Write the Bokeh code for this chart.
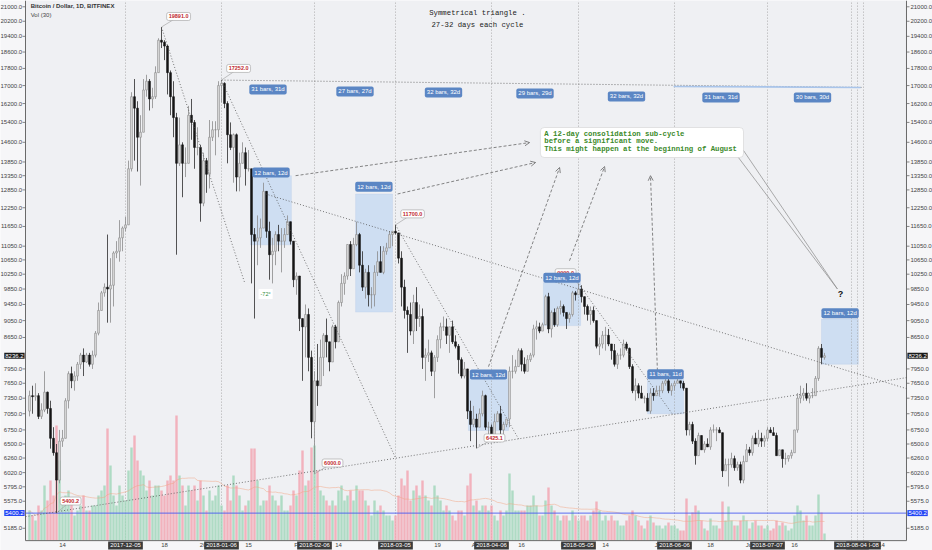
import pandas as pd
from bokeh.plotting import figure
from bokeh.models import (ColumnDataSource, Range1d, LinearScale, BoxAnnotation, Label, Arrow, OpenHead)
from bokeh.core.properties import value
from bokeh.embed import file_html
from bokeh.resources import INLINE

# ---------------- data (BTC/USD Bitfinex, daily, 2017-11-03 .. 2018-07-26) ----------------
# day index relative to 2017-12-05
FIRST_DAY = -32

opens = [
    # Nov 3-30
    7100, 7400, 7380, 7400, 7000, 7120, 7470, 7150, 6600, 6350, 5900, 6550, 6600, 7300, 7850, 7700, 7800, 8050, 8250, 8100,
    8250, 8050, 8250, 8750, 9300, 9750, 9900, 9850,
    # Dec
    9950, 10850, 10900, 11300, 11600, 11700, 13600, 16500, 16000, 14800, 15000, 16800, 17200, 16400, 16500, 17600, 19200,
    19100, 18900, 17600, 16500, 15600, 13800, 14500, 13800, 13800, 15700, 15400, 14400, 14400, 12400,
    # Jan
    13900, 13400, 14800, 15100, 15100, 17000, 17100, 16200, 14900, 14400, 14900, 13300, 13800, 14200, 13600, 13600, 11400,
    11200, 11300, 11600, 12800, 11500, 10800, 10900, 11400, 11200, 11200, 11400, 11800, 11200, 10100,
    # Feb
    10200, 9100, 8900, 9200, 8200, 6900, 7700, 7600, 8200, 8700, 8550, 8100, 8900, 8550, 9500, 10000, 10200, 11100, 10400,
    11100, 11400, 10500, 9900, 10300, 9700, 9700, 10300, 10600,
    # Mar
    10300, 10900, 11000, 11400, 11500, 11450, 10700, 9900, 9300, 9200, 8800, 9500, 9100, 9150, 8200, 8250, 8300, 7900, 8200,
    8600, 8900, 8900, 8700, 8900, 8550, 8450, 8150, 7800, 7950, 7100, 6850,
    # Apr
    6950, 6800, 7050, 7400, 6800, 6800, 6600, 6900, 7050, 6750, 6850, 6950, 7900, 7900, 8000, 8350, 8050, 7900, 8150, 8250,
    8850, 8900, 8800, 8950, 9650, 8850, 9250, 8950, 9350, 9400,
    # May
    9250, 9100, 9200, 9750, 9700, 9850, 9650, 9400, 9200, 9300, 9050, 8450, 8500, 8700, 8700, 8500, 8350, 8050, 8250, 8250,
    8500, 8400, 8000, 7500, 7600, 7450, 7350, 7350, 7100, 7450, 7400,
    # Jun
    7500, 7500, 7650, 7700, 7500, 7600, 7650, 7700, 7650, 7550, 6750, 6850, 6550, 6300, 6650, 6400, 6500, 6450, 6750, 6750,
    6750, 6700, 6050, 6150, 6150, 6250, 6100, 6150, 5900, 6200,
    # Jul 1-26
    6400, 6350, 6600, 6500, 6600, 6550, 6600, 6750, 6700, 6650, 6300, 6400, 6250, 6250, 6300, 6350, 6750, 7350, 7400, 7450,
    7350, 7400, 7400, 7750, 8400, 8200,
]
highs = [
    7500, 7600, 7650, 7450, 7250, 7900, 7480, 7300, 6800, 6500, 6750, 6750, 7350, 7900, 8000, 7900, 8100, 8300, 8400, 8300,
    8300, 8350, 8800, 9500, 9800, 10000, 11400, 10700,
    10900, 11200, 11850, 11650, 11950, 13900, 16700, 17300, 16300, 15700, 17300, 17500, 17300, 16900, 17900, 19300, 19891,
    19200, 18950, 17700, 17200, 15800, 15600, 14600, 14400, 16100, 16400, 15500, 15200, 14500, 14200,
    14000, 15500, 15450, 15450, 17200, 17252, 17150, 16300, 15400, 14950, 14950, 14200, 14600, 14400, 14300, 13600, 11600,
    12000, 11900, 13100, 12800, 11800, 11300, 11500, 11700, 11600, 11600, 12000, 11800, 11200, 10300,
    10200, 9100, 9450, 9350, 8350, 7900, 8500, 8600, 8750, 9100, 8550, 8950, 8950, 9550, 10250, 10300, 11100, 11200, 11300,
    11800, 11450, 10900, 10400, 10500, 9900, 10500, 10900, 11050,
    11050, 11150, 11500, 11500, 11700, 11450, 10900, 10100, 9400, 9500, 9700, 9900, 9450, 9350, 8400, 8600, 8350, 8250, 8700,
    9000, 9150, 9100, 8900, 9050, 8700, 8500, 8200, 8100, 7950, 7300, 7200,
    7050, 7150, 7500, 7420, 6900, 6850, 7050, 7100, 7200, 6900, 6950, 8000, 8250, 8150, 8400, 8400, 8200, 8250, 8300, 8950,
    9050, 9000, 9000, 9700, 9750, 9300, 9350, 9400, 9550, 9450,
    9250, 9250, 9800, 9800, 9990, 9950, 9650, 9450, 9400, 9400, 9050, 8650, 8800, 8900, 8850, 8500, 8500, 8300, 8400, 8600,
    8550, 8420, 8050, 7750, 7650, 7600, 7400, 7450, 7550, 7550, 7600,
    7600, 7700, 7750, 7750, 7650, 7700, 7750, 7700, 7700, 7550, 6900, 6900, 6600, 6700, 6650, 6550, 6600, 6800, 6850, 6800,
    6800, 6700, 6250, 6250, 6350, 6300, 6200, 6200, 6300, 6500,
    6450, 6650, 6700, 6750, 6700, 6650, 6800, 6800, 6800, 6700, 6400, 6400, 6350, 6300, 6400, 6750, 7450, 7600, 7550, 7650,
    7450, 7550, 7800, 8450, 8500, 8300,
]
lows = [
    7000, 7050, 7300, 6950, 6950, 7080, 7050, 6420, 6300, 5400.2, 5850, 6450, 6600, 7150, 7550, 7500, 7700, 7950, 7800, 8080,
    8000, 7950, 8200, 8700, 9300, 9650, 9000, 9000,
    9400, 10700, 10600, 10900, 11500, 11700, 13500, 13900, 13500, 13000, 15000, 16500, 15900, 16000, 16400, 17600, 18800,
    18200, 16600, 15700, 14800, 10800, 13700, 12600, 13300, 13800, 14700, 13600, 14100, 11800, 12300,
    12750, 12900, 14650, 14100, 14800, 16250, 16000, 13800, 14300, 13100, 12800, 12800, 13800, 13000, 13500, 10000, 9100,
    10500, 11000, 11600, 11300, 10100, 10000, 10500, 10900, 10300, 11000, 11400, 11100, 9900, 9700,
    8800, 7700, 8200, 7900, 6600, 6000, 7200, 7600, 7800, 8200, 7900, 8100, 8400, 8550, 9400, 9700, 10100, 10200, 10400,
    11050, 10300, 9800, 9600, 9400, 9350, 9400, 10200, 10300,
    10250, 10800, 11000, 11050, 11400, 10550, 9400, 9100, 8300, 8700, 8500, 8800, 8900, 7950, 7700, 8100, 7800, 7350, 8100,
    8400, 8800, 8500, 8300, 8500, 8400, 7850, 7750, 7750, 6950, 6550, 6800,
    6425.1, 6800, 7000, 6750, 6600, 6550, 6600, 6900, 6650, 6650, 6800, 6800, 7750, 7850, 8000, 7900, 7850, 7900, 8100, 8200,
    8600, 8750, 8800, 8950, 8750, 8650, 8900, 8900, 9200, 9150,
    8850, 9000, 9150, 9550, 9700, 9500, 9200, 9050, 8950, 9000, 8400, 8250, 8400, 8350, 8450, 8150, 8000, 7950, 8150, 8200,
    8350, 7950, 7450, 7300, 7350, 7350, 7250, 7100, 7050, 7300, 7400,
    7400, 7450, 7600, 7450, 7400, 7500, 7650, 7550, 7500, 6650, 6650, 6500, 6150, 6300, 6400, 6350, 6450, 6400, 6700, 6550,
    6700, 5950, 6050, 5800, 6100, 6050, 6050, 5850, 5850, 6200,
    6300, 6300, 6500, 6450, 6450, 6450, 6550, 6700, 6650, 6300, 6300, 6100, 6150, 6200, 6250, 6350, 6700, 7250, 7300, 7300,
    7250, 7350, 7400, 7700, 8050, 8150,
]
closes = [
    7400, 7380, 7400, 7000, 7120, 7470, 7150, 6600, 6350, 5900, 6550, 6600, 7300, 7850, 7700, 7800, 8050, 8250, 8100, 8250,
    8050, 8250, 8750, 9300, 9750, 9900, 9850, 9950,
    10850, 10900, 11300, 11600, 11700, 13600, 16500, 16000, 14800, 15000, 16800, 17200, 16400, 16500, 17600, 19200, 19100,
    18900, 17600, 16500, 15600, 13800, 14500, 13800, 13800, 15700, 15400, 14400, 14400, 12400, 13900,
    13400, 14800, 15100, 15100, 17000, 17100, 16200, 14900, 14400, 14900, 13300, 13800, 14200, 13600, 13600, 11400, 11200,
    11300, 11600, 12800, 11500, 10800, 10900, 11400, 11200, 11200, 11400, 11800, 11200, 10100, 10200,
    9100, 8900, 9200, 8200, 6900, 7700, 7600, 8200, 8700, 8550, 8100, 8900, 8550, 9500, 10000, 10200, 11100, 10400, 11100,
    11400, 10500, 9900, 10300, 9700, 9700, 10300, 10600, 10300,
    10900, 11000, 11400, 11500, 11450, 10700, 9900, 9300, 9200, 8800, 9500, 9100, 9150, 8200, 8250, 8300, 7900, 8200, 8600,
    8900, 8900, 8700, 8900, 8550, 8450, 8150, 7800, 7950, 7100, 6850, 6950,
    6800, 7050, 7400, 6800, 6800, 6600, 6900, 7050, 6750, 6850, 6950, 7900, 7900, 8000, 8350, 8050, 7900, 8150, 8250, 8850,
    8900, 8800, 8950, 9650, 8850, 9250, 8950, 9350, 9400, 9250,
    9100, 9200, 9750, 9700, 9850, 9650, 9400, 9200, 9300, 9050, 8450, 8500, 8700, 8700, 8500, 8350, 8050, 8250, 8250, 8500,
    8400, 8000, 7500, 7600, 7450, 7350, 7350, 7100, 7450, 7400, 7500,
    7500, 7650, 7700, 7500, 7600, 7650, 7700, 7650, 7550, 6750, 6850, 6550, 6300, 6650, 6400, 6500, 6450, 6750, 6750, 6750,
    6700, 6050, 6150, 6150, 6250, 6100, 6150, 5900, 6200, 6400,
    6350, 6600, 6500, 6600, 6550, 6600, 6750, 6700, 6650, 6300, 6400, 6250, 6250, 6300, 6350, 6750, 7350, 7400, 7450, 7350,
    7400, 7400, 7750, 8400, 8200, 8236.2,
]
volumes = [  # thousand BTC
    30, 25, 20, 35, 30, 55, 40, 60, 45, 115, 80, 40, 45, 50, 40, 25, 30, 35, 45, 30, 30, 35, 35, 45, 50, 55, 112, 75,
    45, 35, 55, 45, 40, 70, 93, 105, 80, 70, 65, 50, 60, 45, 55, 55, 50, 45, 60, 65, 60, 125, 65, 55, 35, 55, 50, 55, 40, 60, 45,
    30, 50, 40, 45, 55, 35, 30, 55, 40, 65, 55, 45, 30, 35, 40, 92, 92, 60, 35, 40, 40, 55, 45, 40, 35, 45, 30, 30, 35, 50, 45,
    70, 90, 55, 60, 93, 95, 70, 50, 45, 40, 35, 40, 35, 50, 55, 40, 45, 50, 40, 55, 50, 50, 40, 35, 25, 40, 30, 35,
    30, 25, 25, 20, 25, 45, 62, 55, 70, 40, 50, 55, 45, 60, 45, 40, 35, 55, 45, 40, 30, 35, 30, 25, 20, 30, 30, 25, 55, 67, 35,
    40, 30, 35, 35, 30, 35, 25, 20, 30, 25, 30, 67, 50, 30, 30, 30, 30, 35, 35, 45, 35, 25, 25, 40, 53, 35, 30, 25, 20, 25,
    25, 20, 30, 25, 20, 25, 25, 20, 25, 30, 39, 30, 20, 25, 20, 25, 20, 20, 15, 15, 20, 25, 30, 25, 20, 15, 12, 20, 25, 18, 15,
    15, 12, 15, 18, 15, 15, 12, 10, 10, 42, 25, 28, 35, 30, 20, 12, 10, 22, 15, 15, 12, 39, 20, 34, 20, 15, 15, 20, 25, 20,
    12, 18, 20, 15, 15, 12, 15, 10, 12, 20, 15, 18, 15, 10, 12, 25, 35, 30, 20, 25, 15, 15, 25, 46, 28, 7,
]

price_ticks = [21000, 20200, 19400, 18600, 17800, 17000, 16200, 15400, 14600, 13850, 13350, 12850, 12250, 11650,
               11050, 10650, 10250, 9850, 9450, 9050, 8650, 7950, 7650, 7350, 7050, 6750, 6500, 6260, 6020, 5795,
               5575, 5185]
date_ticks = [-21, -4, 13, 27, 41, 58, 71, 86, 104, 117, 132, 147, 160, 178, 195, 208, 223, 239, 252]
date_tick_labels = ["14", "Dec", "18", "2018", "15", "Feb", "14", "Mar", "19", "Apr", "16", "May", "14", "Jun",
                    "18", "Jul", "16", "Aug", "14"]
cycle_days = [32, 63, 90, 122, 151, 183, 214, 244]
cycle_labels = ["31 bars, 31d", "27 bars, 27d", "32 bars, 32d", "29 bars, 29d", "32 bars, 32d", "31 bars, 31d",
                "30 bars, 30d"]
marker_days = [0, 32, 63, 90, 122, 151, 183, 214, 246, 242]
marker_texts = ["2017-12-05", "2018-01-06", "2018-02-06", "2018-03-05", "2018-04-06", "2018-05-05", "2018-06-06",
                "2018-07-07", "2018-08-08", "2018-08-04"]
last_price = 8236.2
support_price = 5400.2

# ---------------- canvas / plot area (the whole canvas is the frame; price & time scales drawn on it) ----------------
CX0, CX1 = -41.667, 269.0        # canvas edges in days
CY0, CY1 = 4885, 21357           # canvas edges in price (log)
X0, X1 = -33.33, 260.33          # plot-area edges in days
Y0, Y1 = 5016, 21357             # plot-area bottom / top price
FONT = "Liberation Sans"
MONO = "Liberation Mono"
AX = "#6a6a6a"

days = list(range(FIRST_DAY, FIRST_DAY + len(closes)))
up = [c >= o for o, c in zip(opens, closes)]
src = ColumnDataSource(dict(
    day=days, open=opens, high=highs, low=lows, close=closes,
    btop=[max(o, c) for o, c in zip(opens, closes)],
    bbot=[min(o, c) for o, c in zip(opens, closes)],
    bfill=["#dcdcdc" if u else "#151515" for u in up],
    bline=["#8a8a8a" if u else "#151515" for u in up],
    wick=["#8a8a8a" if u else "#2a2a2a" for u in up],
    vol=volumes,
    vcolor=["#9ed6b8" if u else "#f2a2ae" for u in up],
    vma=pd.Series(volumes, dtype=float).rolling(30, min_periods=1).mean().tolist(),
))

p = figure(width=932, height=550, y_axis_type="log", x_range=Range1d(CX0, CX1), y_range=Range1d(CY0, CY1),
           output_backend="svg", toolbar_location=None, x_axis_location=None, y_axis_location=None,
           min_border=0, background_fill_color="#f6f6f8", border_fill_color="#f6f6f8", outline_line_color=None)
p.grid.visible = False
p.extra_y_ranges = {"vol": Range1d(-10, 540)}
p.extra_y_scales = {"vol": LinearScale()}

# plot area background
p.add_layout(BoxAnnotation(left=X0, right=X1, top=Y1, bottom=Y0, fill_color="#eff0f3", fill_alpha=1,
                           line_color=None, level="underlay"))

# date-range boxes (12-bar consolidations)
boxes = [(41.7, 55.3, 13350, 11090, "12 bars, 12d", 48.5, 13460),
         (76.7, 89.0, 12710, 9260, "12 bars, 12d", 82.8, 12960),
         (114.3, 127.7, 7750, 6740, "12 bars, 12d", 121.0, 7830),
         (139.3, 151.7, 10020, 8930, "12 bars, 12d", 145.5, 10150),
         (174.0, 186.0, 7750, 7050, "11 bars, 11d", 180.0, 7840),
         (232.0, 244.3, 9090, 8050, "12 bars, 12d", 238.2, 9230)]
for l, r, t, b, _, _, _ in boxes:
    p.add_layout(BoxAnnotation(left=l, right=r, top=t, bottom=b, fill_color="#c3d8f1", fill_alpha=0.75,
                               line_color="#a8c2e4", line_width=0.8, level="underlay"))

# vertical date-marker lines
vd = sorted(set(marker_days + cycle_days))
p.segment(x0=vd, y0=[Y0] * len(vd), x1=vd, y1=[Y1] * len(vd), line_color="#9c9c9c", line_dash="1 2",
          line_width=0.8)

# volume + MA
p.vbar(x="day", top="vol", bottom=0, width=0.8, fill_color="vcolor", fill_alpha=0.8, line_color=None,
       y_range_name="vol", source=src)
p.line(x="day", y="vma", line_color="#f3a27f", line_alpha=0.6, line_width=0.8, y_range_name="vol", source=src)

# support line
p.segment(x0=[X0], y0=[support_price], x1=[X1], y1=[support_price], line_color="#4a5cf0", line_width=0.9)

# candles
p.segment(x0="day", y0="low", x1="day", y1="high", line_color="wick", line_width=0.8, source=src)
p.vbar(x="day", top="btop", bottom="bbot", width=0.62, fill_color="bfill", line_color="bline", line_width=0.6,
       source=src)

# ---- price & time scales ----
n = len(price_ticks)
p.segment(x0=[X0, X1, X0], y0=[Y0, Y0, Y0], x1=[X0, X1, X1], y1=[Y1, Y1, Y0], line_color=AX, line_width=1)
p.segment(x0=[X0] * n + [X1] * n, y0=price_ticks * 2, x1=[X0 - 1] * n + [X1 + 1] * n, y1=price_ticks * 2,
          line_color=AX, line_width=0.8)
tick_txt = [f"{t:.1f}" for t in price_ticks]
p.text(x=[X0 - 1.1] * n, y=price_ticks, text=tick_txt, text_align="right", text_baseline="middle",
       text_font=value(FONT), text_font_size=value("6px"), text_color="#444444")
p.text(x=[X1 + 1.3] * n, y=price_ticks, text=tick_txt, text_align="left", text_baseline="middle",
       text_font=value(FONT), text_font_size=value("6px"), text_color="#444444")
p.text(x=date_ticks, y=[4952] * len(date_ticks), text=date_tick_labels, text_align="center",
       text_baseline="middle", text_font=value(FONT), text_font_size=value("6px"), text_color="#444444")

# trend lines (dotted)
tl = ColumnDataSource(dict(
    x0=[46.7, X0, 12, 32, 90, 151, 32],
    y0=[12710, 5349, 19891, 17252, 11700, 9990, 17252],
    x1=[X1, X1, 39.7, 90, 131, 182.3, 246],
    y1=[7541, 7767, 10023, 6265, 6592, 7045, 16915]))
p.segment(x0="x0", y0="y0", x1="x1", y1="y1", line_color="#555555", line_dash="1 2", line_width=0.8, source=tl)
p.segment(x0=[182.7], y0=[16960], x1=[245], y1=[16915], line_color="#a8c4ea", line_width=1.6)

# callout leader lines
cl = ColumnDataSource(dict(
    x0=[12, 32, 90, 151, 117, 63, -23],
    y0=[19891, 17252, 11700, 9990, 6425.1, 6000, 5400.2],
    x1=[17.7, 37.7, 95.7, 146.7, 123, 69, -18.3],
    y1=[20460, 17800, 12050, 10290, 6606, 6177, 5578]))
p.segment(x0="x0", y0="y0", x1="x1", y1="y1", line_color="#9a9a9a", line_width=0.6, source=cl)

# lines from comment box to "?"
p.segment(x0=[204.3, 206.0], y0=[14017, 14283], x1=[237.3, 237.3], y1=[9852, 9852], line_color="#8a8a8a",
          line_width=0.7)

# dashed arrows to the comment
arrows = [(56.7, 13350, 134.7, 14590), (90.7, 12710, 136.7, 13830), (121.0, 7999, 144.7, 13645),
          (148.0, 10627, 159.7, 13680), (177.3, 7914, 175.0, 13350)]
for xs, ys, xe, ye in arrows:
    p.add_layout(Arrow(end=OpenHead(size=5, line_color="#666666", line_width=0.8), x_start=xs, y_start=ys,
                       x_end=xe, y_end=ye, line_color="#666666", line_dash="3 2", line_width=0.8))

# comment box
p.add_layout(BoxAnnotation(left=138.3, right=206.0, top=15192, bottom=14017, fill_color="white", fill_alpha=1,
                           line_color="#9a9a9a", line_width=0.8, border_radius=4, level="annotation"))
for txt, yy in [("A 12-day consolidation sub-cycle", 14945), ("before a significant move.", 14643),
                ("This might happen at the beginning of August", 14356)]:
    p.add_layout(Label(x=139.6, y=yy, text=txt, text_font=MONO, text_font_size="7.3px", text_font_style="bold",
                       text_color="#3b8a2a", text_baseline="middle", text_align="left"))

# title
for txt, yy in [("Symmetrical triangle .", 20630), ("27-32 days each cycle", 19980)]:
    p.add_layout(Label(x=117.3, y=yy, text=txt, text_font=MONO, text_font_size="7.3px", text_color="#222222",
                       text_baseline="middle", text_align="center"))

# header
p.add_layout(Label(x=-31.6, y=21017, text="Bitcoin / Dollar, 1D, BITFINEX", text_font=FONT, text_font_size="6px",
                   text_font_style="bold", text_color="#333333", text_baseline="middle"))
p.add_layout(Label(x=-31.6, y=20520, text="Vol (30)", text_font=FONT, text_font_size="6px", text_color="#444444",
                   text_baseline="middle"))

# price callouts
for txt, xx, yy in [("19891.0", 17.7, 20460), ("17252.0", 37.7, 17800), ("11700.0", 95.7, 12050),
                    ("9990.0", 146.7, 10290), ("6425.1", 123, 6606), ("6000.0", 69, 6177), ("5400.2", -18.3, 5578)]:
    p.add_layout(Label(x=xx, y=yy, text=txt, text_font=FONT, text_font_size="5.5px", text_font_style="bold",
                       text_color="#c0282d", text_align="center", text_baseline="middle",
                       background_fill_color="white", border_line_color="#a0a0a0", border_line_width=0.6,
                       padding=2, border_radius=2))

# "-72°" angle tag
p.add_layout(Label(x=46.7, y=9720, text="-72°", text_font=FONT, text_font_size="5.5px", text_color="#2e8b3a",
                   text_align="center", text_baseline="middle", background_fill_color="white", padding=2))

# cycle length labels
cycle_y = [16823, 16733, 16688, 16643, 16510, 16466, 16466]
for i, txt in enumerate(cycle_labels):
    cx = (cycle_days[i] + cycle_days[i + 1]) / 2
    p.add_layout(Label(x=cx, y=cycle_y[i], text=txt, text_font=FONT, text_font_size="6px", text_color="white",
                       text_align="center", text_baseline="middle", background_fill_color="#5b86c4",
                       padding=2, border_radius=2))
for _, _, _, _, txt, lx, ly in boxes:
    p.add_layout(Label(x=lx, y=ly, text=txt, text_font=FONT, text_font_size="6px", text_color="white",
                       text_align="center", text_baseline="middle", background_fill_color="#5b86c4",
                       padding=2, border_radius=2))

p.add_layout(Label(x=238.3, y=9720, text="?", text_font=FONT, text_font_size="9px", text_font_style="bold",
                   text_color="#111111", text_align="center", text_baseline="middle"))

# date markers on the time scale
for d, txt in zip(marker_days, marker_texts):
    p.add_layout(Label(x=d, y=4952, text=txt, text_font=FONT, text_font_size="6px", text_color="white",
                       text_align="center", text_baseline="middle", background_fill_color="#3b3b3b", padding=2))

# price tags on the scales
for xx, al in [(X1 + 0.3, "left"), (X0 - 0.3, "right")]:
    p.add_layout(Label(x=xx, y=last_price, text=f"{last_price:.1f}", text_font=FONT,
                       text_font_size="6px", text_color="white", text_align=al, text_baseline="middle",
                       background_fill_color="#1a1a1a", padding=1))
    p.add_layout(Label(x=xx, y=support_price, text=f"{support_price:.1f}", text_font=FONT,
                       text_font_size="6px", text_color="white", text_align=al, text_baseline="middle",
                       background_fill_color="#2446f5", padding=1))

open("out.html", "w").write(file_html(p, INLINE))
